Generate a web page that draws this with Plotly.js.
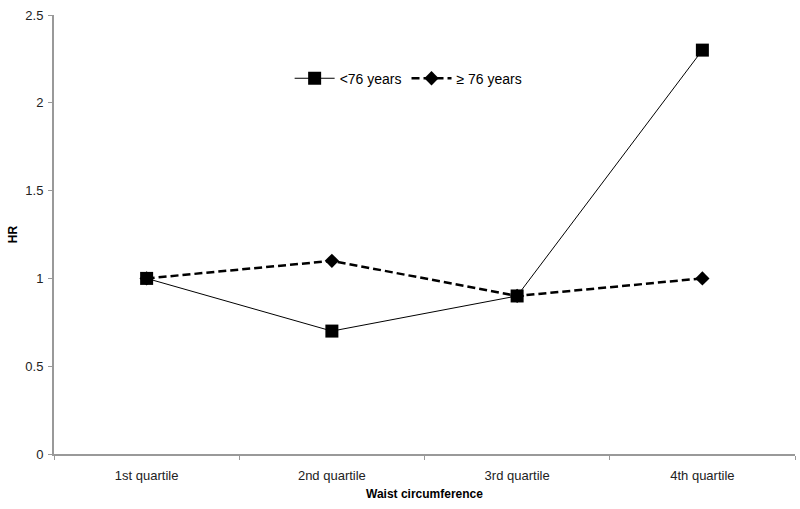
<!DOCTYPE html>
<html>
<head>
<meta charset="utf-8">
<script src="https://cdn.plot.ly/plotly-3.0.1.min.js"></script>
<style>
  html, body { margin: 0; padding: 0; background: #fff; }
  #chart { width: 800px; height: 509px; }
</style>
</head>
<body>
<div id="chart"></div>
<script>
// quartiles of waist circumference and hazard ratios per age group
let quartiles = ['1st quartile', '2nd quartile', '3rd quartile', '4th quartile'];
let hrYounger = [1, 0.7, 0.9, 2.3];
let hrOlder = [1, 1.1, 0.9, 1.0];

// older group drawn first so the squares sit on top
let data = [{
  x: quartiles,
  y: hrOlder,
  name: '\u2265 76 years',
  legendrank: 2,
  type: 'scatter',
  mode: 'lines+markers',
  line: { color: '#000', width: 2.5, dash: '8px,4px' },
  marker: { symbol: 'diamond', size: 11, color: '#000', line: { width: 0 } }
}, {
  x: quartiles,
  y: hrYounger,
  name: '<76 years',
  legendrank: 1,
  type: 'scatter',
  mode: 'lines+markers',
  line: { color: '#000', width: 1 },
  marker: { symbol: 'square', size: 13, color: '#000', line: { width: 0 } }
}];

let layout = {
  width: 800,
  height: 509,
  margin: { l: 54, r: 5, t: 15, b: 55 },
  paper_bgcolor: '#fff',
  plot_bgcolor: '#fff',
  font: { family: 'Liberation Sans, Arial, sans-serif', size: 12, color: '#000' },
  showlegend: true,
  legend: {
    orientation: 'h',
    x: 0.318,
    y: 0.855,
    xanchor: 'left',
    yanchor: 'middle',
    font: { size: 14 },
    itemwidth: 40,
    bgcolor: 'rgba(0,0,0,0)'
  },
  xaxis: {
    type: 'category',
    range: [-0.5, 3.5],
    tickson: 'boundaries',
    ticks: 'outside',
    ticklen: 4,
    tickcolor: '#999',
    ticklabelstandoff: 8,
    showline: true,
    linecolor: '#999',
    linewidth: 2,
    showgrid: false,
    zeroline: false,
    tickfont: { size: 13, color: '#222' },
    title: { text: '<b>Waist circumference</b>', font: { size: 12 }, standoff: 8 }
  },
  yaxis: {
    range: [0, 2.5],
    dtick: 0.5,
    ticks: 'outside',
    ticklen: 4,
    tickcolor: '#999',
    ticklabelstandoff: 2,
    showline: true,
    linecolor: '#999',
    linewidth: 2,
    showgrid: false,
    zeroline: false,
    tickfont: { size: 13, color: '#222' },
    title: { text: '<b>HR</b>', font: { size: 12 }, standoff: 5 }
  }
};

Plotly.newPlot('chart', data, layout, { displayModeBar: false });
</script>
</body>
</html>
